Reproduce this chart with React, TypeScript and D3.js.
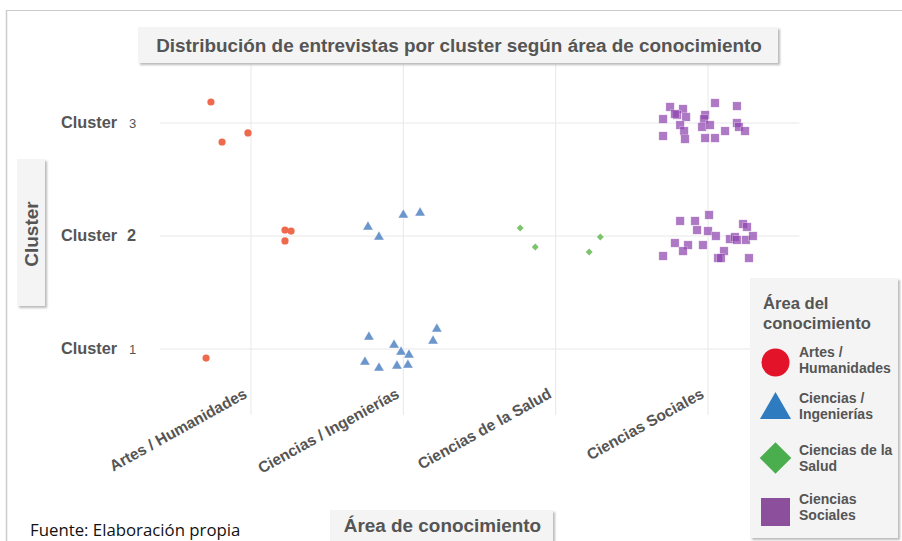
import React from "react";
import * as d3 from "d3";

const categories = ["Artes / Humanidades", "Ciencias / Ingenierías", "Ciencias de la Salud", "Ciencias Sociales"];
const clusterTicks = [1, 2, 3];

// x = category index + jitter, y = cluster + jitter
const artesX = [-0.263, -0.02, -0.19, 0.223, 0.263, 0.223, -0.295];
const artesY = [3.186, 2.912, 2.832, 2.053, 2.044, 1.956, 0.92];

const ingX = [0.768, 0.84, 1.0, 1.11, 0.774, 1.22, 1.195, 0.939, 0.985, 1.037, 0.748, 0.958, 1.03, 0.84];
const ingY = [2.08, 1.991, 2.186, 2.204, 1.106, 1.177, 1.071, 1.035, 0.973, 0.947, 0.885, 0.85, 0.858, 0.832];

const saludX = [1.767, 1.866, 2.22, 2.293];
const saludY = [2.071, 1.903, 1.858, 1.991];

const socX = [2.751, 2.836, 3.046, 3.19, 2.705, 2.797, 2.856, 2.981, 2.974, 2.817, 2.843, 2.961, 3.013, 3.19, 3.203, 3.243, 3.112, 2.705, 2.849, 2.981, 3.046, 2.783,
  2.817, 2.915, 3.007, 3.23, 3.256, 2.928, 3.0, 3.052, 3.144, 3.177, 3.19, 3.249, 3.295, 2.783, 2.869, 2.967, 2.836, 3.105, 2.705, 3.066, 3.085, 3.269];
const socY = [3.142, 3.124, 3.177, 3.15, 3.035, 3.071, 3.053, 3.071, 3.035, 2.982, 2.929, 2.965, 2.982, 3.0, 2.965, 2.929, 2.929, 2.885, 2.858, 2.867, 2.867, 3.08,
  2.133, 2.133, 2.186, 2.106, 2.08, 2.053, 2.044, 2.0, 1.973, 1.991, 1.965, 1.965, 2.0, 1.938, 1.92, 1.92, 1.867, 1.867, 1.823, 1.805, 1.805, 1.805];

const legendTitle = ["Área del", "conocimiento"];
const legendLabels = [["Artes /", "Humanidades"], ["Ciencias /", "Ingenierías"], ["Ciencias de la", "Salud"], ["Ciencias", "Sociales"]];

const FONT = "'Liberation Sans', Arial, sans-serif";
const GRAY = "#555555";

export default function App() {
  const x = d3.scaleLinear().domain([-0.6, 3.6]).range([159.6, 799.4]);
  const y = d3.scaleLinear().domain([0.4, 3.5]).range([416.8, 66.5]);

  const tri = d3.symbol().type(d3.symbolTriangle).size(48)()!;
  const dia = d3.symbol().type(d3.symbolSquare).size(24)()!;
  const legTri = d3.symbol().type(d3.symbolTriangle).size(420)()!;
  const legDia = d3.symbol().type(d3.symbolSquare).size(500)()!;

  const shadow = (xx: number, yy: number, w: number, h: number) => (
    <g>
      <rect x={xx + 2} y={yy + 2} width={w} height={h} fill="#bbbbbb" filter="url(#blur)" />
      <rect x={xx} y={yy} width={w} height={h} fill="#f4f4f4" />
    </g>
  );

  return (
    <svg width={902} height={541} style={{ position: "absolute", left: 0, top: 0 }}>
      <defs>
        <filter id="blur" x="-10%" y="-10%" width="120%" height="130%">
          <feGaussianBlur stdDeviation="1.2" />
        </filter>
      </defs>
      <rect x={0} y={0} width={902} height={541} fill="#ffffff" />
      {/* outer frame */}
      <line x1={6} x2={902} y1={10.5} y2={10.5} stroke="#cccccc" strokeWidth={1.2} />
      <line x1={6.5} x2={6.5} y1={10} y2={541} stroke="#cccccc" strokeWidth={1.5} />

      {/* grid */}
      {clusterTicks.map((c) => (
        <line key={"h" + c} x1={159.6} x2={799.4} y1={y(c)} y2={y(c)} stroke="#e8e8e8" strokeWidth={1} />
      ))}
      {categories.map((_, i) => (
        <line key={"v" + i} x1={x(i)} x2={x(i)} y1={63} y2={415} stroke="#e8e8e8" strokeWidth={1} />
      ))}

      {/* title */}
      {shadow(138, 27, 640, 36)}
      <text x={459} y={52} textAnchor="middle" fontFamily={FONT} fontWeight="bold" fontSize={18.9} fill={GRAY}>
        Distribución de entrevistas por cluster según área de conocimiento
      </text>

      {/* y axis title */}
      {shadow(17, 159, 28, 147)}
      <text transform={`translate(37.5,234) rotate(-90)`} textAnchor="middle" fontFamily={FONT} fontWeight="bold" fontSize={19} fill={GRAY}>
        Cluster
      </text>

      {/* y tick labels */}
      {clusterTicks.map((c) => (
        <text key={"yl" + c} x={61} y={y(c) + 5} fontFamily={FONT} fontWeight="bold" fontSize={16.3} fill={GRAY}>
          Cluster
          {c === 2 ? (
            <tspan dx={10} fontSize={16.3} fontWeight="bold">{c}</tspan>
          ) : (
            <tspan dx={12} fontSize={13} fontWeight="normal">{c}</tspan>
          )}
        </text>
      ))}

      {/* x tick labels */}
      {categories.map((cat, i) => (
        <text key={"xl" + i} transform={`translate(${x(i) - 3},${397}) rotate(-29)`} textAnchor="end" fontFamily={FONT} fontWeight="bold" fontSize={15.5} fill={GRAY}>
          {cat}
        </text>
      ))}

      {/* points */}
      {artesX.map((v, i) => (
        <circle key={"a" + i} cx={x(v)} cy={y(artesY[i])} r={3.6} fill="#ee6a4c" />
      ))}
      {ingX.map((v, i) => (
        <path key={"t" + i} d={tri} transform={`translate(${x(v)},${y(ingY[i])})`} fill="#6b96cc" stroke="#ffffff" strokeWidth={0.5} />
      ))}
      {saludX.map((v, i) => (
        <path key={"d" + i} d={dia} transform={`translate(${x(v)},${y(saludY[i])}) rotate(45)`} fill="#7cc46b" />
      ))}
      {socX.map((v, i) => (
        <rect key={"s" + i} x={x(v) - 4.2} y={y(socY[i]) - 4.2} width={8.4} height={8.4} fill="#8e44ad" fillOpacity={0.72} stroke="#ffffff" strokeOpacity={0.6} strokeWidth={0.5} />
      ))}

      {/* x axis title */}
      {shadow(330, 510, 223, 40)}
      <text x={442.5} y={531.5} textAnchor="middle" fontFamily={FONT} fontWeight="bold" fontSize={18.9} fill={GRAY}>
        Área de conocimiento
      </text>

      {/* footer */}
      <text x={30} y={536} fontFamily="'Open Sans', 'Noto Sans', sans-serif" fontSize={16.8} fill="#111111">
        Fuente: Elaboración propia
      </text>

      {/* legend */}
      {shadow(750, 278, 148, 260)}
      {legendTitle.map((t, i) => (
        <text key={"lt" + i} x={763} y={309 + i * 20} fontFamily={FONT} fontWeight="bold" fontSize={16.6} fill={GRAY}>
          {t}
        </text>
      ))}
      <circle cx={775.5} cy={362.5} r={14} fill="#e3142a" />
      <path d={legTri} transform={`translate(775.5,${410})`} fill="#2e7cbf" />
      <path d={legDia} transform={`translate(775.5,${458}) rotate(45)`} fill="#4aae4e" />
      <rect x={761} y={498} width={29} height={28} fill="#8c4f9c" />
      {legendLabels.map((ls, i) =>
        ls.map((l, j) => (
          <text key={"ll" + i + j} x={799} y={[357, 403, 455, 504][i] + j * 16} fontFamily={FONT} fontWeight="bold" fontSize={14} fill={GRAY}>
            {l}
          </text>
        ))
      )}
    </svg>
  );
}
